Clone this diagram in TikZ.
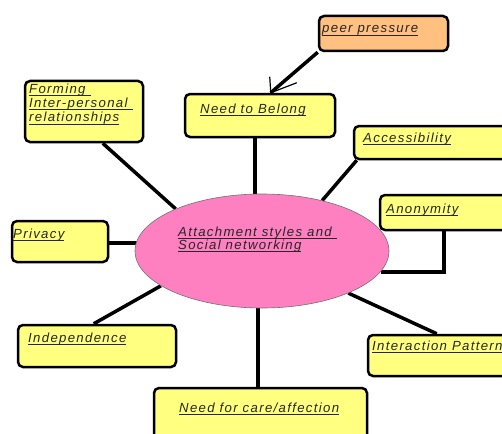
\documentclass[tikz,border=0pt]{standalone}
\usepackage{fontspec}
\setmainfont{Liberation Sans}
\newfontfamily\labfont[LetterSpace=10]{Liberation Sans}
\usetikzlibrary{shapes.geometric,backgrounds}
\definecolor{boxyellow}{HTML}{FFFF80}
\definecolor{boxorange}{HTML}{FFC080}
\definecolor{ellpink}{HTML}{FF80C0}
\definecolor{ellborder}{HTML}{707070}
\newsavebox\ulbox
\newcommand\ulx[1]{\sbox\ulbox{#1}\rlap{\rule[-2.6pt]{\wd\ulbox}{0.9pt}}\usebox\ulbox}
\tikzset{
  box/.style={draw=black, line width=2.5pt, rounded corners=5pt, fill=boxyellow, inner sep=0pt},
  lab/.style={font=\labfont\itshape\fontsize{13.2}{14}\selectfont, inner sep=0pt, anchor=base west, text=black!85},
  conn/.style={line width=3.5pt, line cap=butt},
  barb/.style={line width=1.2pt}
}
\begin{document}
\begin{tikzpicture}[x=1pt,y=-1pt]
\useasboundingbox (0,0) rectangle (502,433);
\clip (0,0) rectangle (502,433);
% ellipse
\node[ellipse, draw=ellborder, line width=0.6pt, fill=ellpink, minimum width=254pt, minimum height=114pt, inner sep=0pt] (ell) at (262,251) {};
% boxes
\node[box, minimum width=118pt, minimum height=61pt] (forming) at (84,111.5) {};
\node[box, minimum width=150pt, minimum height=43pt] (need) at (260,115.5) {};
\node[box, fill=boxorange, minimum width=129pt, minimum height=35pt] (peer) at (383.5,33.5) {};
\node[box, minimum width=186pt, minimum height=33pt] (access) at (447,142.5) {};
\node[box, minimum width=160pt, minimum height=35pt] (anon) at (460,212.5) {};
\node[box, minimum width=96pt, minimum height=41pt] (privacy) at (60,241.5) {};
\node[box, minimum width=158pt, minimum height=42pt] (indep) at (97,346) {};
\node[box, minimum width=213pt, minimum height=72pt] (care) at (260.5,424) {};
\node[box, minimum width=172pt, minimum height=41pt] (inter) at (454,355.5) {};
% texts
\node[lab] (forming-t1) at (29,93.5) {\ulx{Forming }};
\node[lab] (forming-t2) at (29,107.7) {\ulx{Inter-personal }};
\node[lab] (forming-t3) at (29,121.9) {\ulx{relationships}};
\node[lab] (need-t) at (200,113) {\ulx{Need to Belong}};
\node[lab] (peer-t) at (322,33) {\ulx{peer pressure}};
\node[lab] (access-t) at (363,142.5) {\ulx{Accessibility}};
\node[lab] (anon-t) at (386,213.5) {\ulx{Anonymity}};
\node[lab] (privacy-t) at (13,238.5) {\ulx{Privacy}};
\node[lab] (indep-t) at (28,342.5) {\ulx{Independence}};
\node[lab] (care-t) at (179,412.5) {\ulx{Need for care/affection}};
\node[lab] (inter-t) at (372,350.5) {\ulx{Interaction Patterns}};
\node[lab] (ell-t1) at (178,236) {\ulx{Attachment styles and }};
\node[lab] (ell-t2) at (178,249.5) {\ulx{Social networking}};
% connectors
\begin{pgfonlayer}{background}
\draw[conn] ([xshift=79pt]forming.south west) -- (ell.154);
\coordinate (ns) at ([xshift=-5pt]need.south);
\draw[conn] (ns) -- (ns |- ell.north);
\draw[conn] ([xshift=4pt]access.south west) -- (ell.40);
\draw[conn] ([xshift=65pt]anon.south west) |- (ell.-10);
\coordinate (pe) at ([yshift=-1.5pt]privacy.east);
\coordinate (ew) at ([xshift=3pt]ell.west);
\draw[conn] (pe) -- (pe -| ew);
\draw[conn] ([xshift=77pt]indep.north west) -- (ell.199);
\draw[conn] (ell.-26) -- ([xshift=70pt]inter.north west);
\coordinate (cs) at ([xshift=-4pt]ell.south);
\draw[conn] (cs) -- (cs |- care.north);
\coordinate (tip) at ([xshift=87pt]need.north west);
\draw[conn] (peer.south west) -- (tip);
\end{pgfonlayer}
\draw[barb] (tip) -- ([shift={(-1pt,16pt)}]tip);
\draw[barb] (tip) -- ([shift={(26pt,10pt)}]tip);
\end{tikzpicture}
\end{document}
